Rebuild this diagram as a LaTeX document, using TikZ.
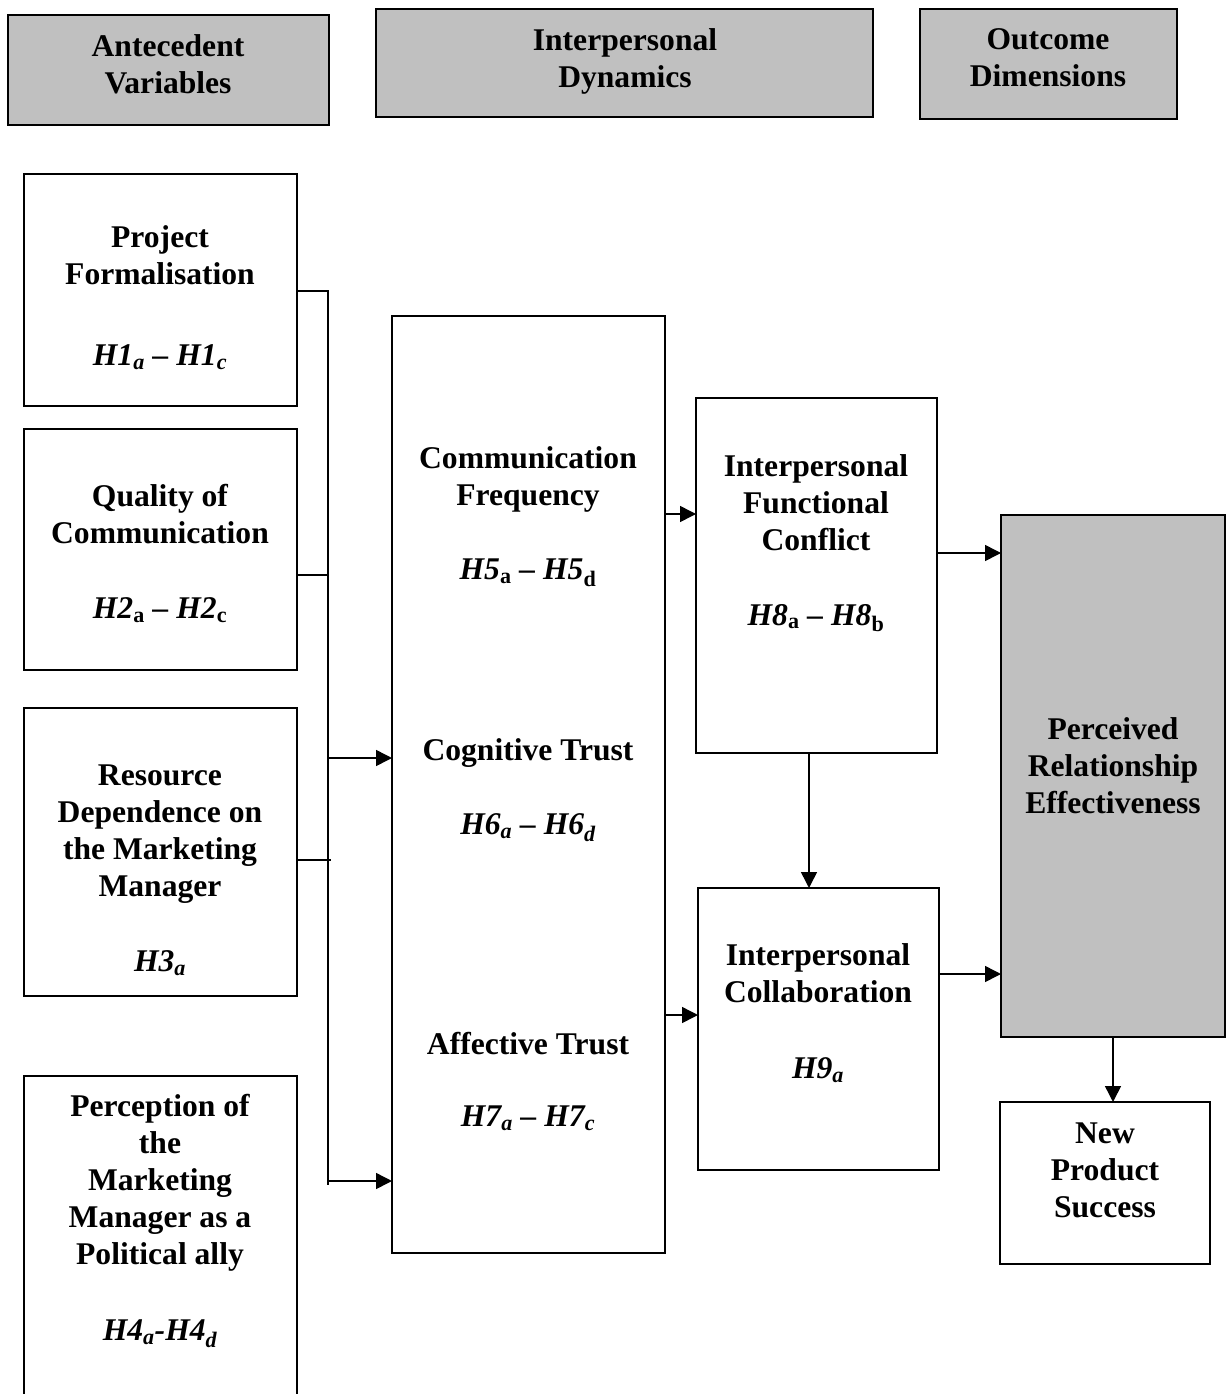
\documentclass[tikz,border=0pt]{standalone}
\usepackage{fontspec}
\setmainfont{Liberation Serif}
\usetikzlibrary{arrows.meta}

\definecolor{hdrgray}{HTML}{C0C0C0}

% subscripts for the hypothesis labels
\newcommand\hsubi[1]{\textsubscript{\textit{#1}}}
\newcommand\hsubu[1]{\textsubscript{\textup{#1}}}

\tikzset{
  box/.style={draw, line width=1.5pt, inner sep=0pt, outer sep=0pt, anchor=north west},
  hbox/.style={box, fill=hdrgray},
  lbl/.style={font=\bfseries\fontsize{31.6}{37}\selectfont, align=center, inner sep=0pt},
  hyp/.style={lbl, font=\bfseries\itshape\fontsize{31.6}{37}\selectfont},
  link/.style={line width=1.5pt},
  arr/.style={link, -{Triangle[length=16pt,width=16pt]}},
}

\begin{document}
\begin{tikzpicture}[x=1pt,y=-1pt]
\useasboundingbox (0,0) rectangle (1230,1394);
\clip (0,0) rectangle (1230,1394);

% column headers
\node[hbox, minimum width=321pt, minimum height=110pt] (h1) at (8,15) {};
\node[hbox, minimum width=497pt, minimum height=108pt] (h2) at (376,9) {};
\node[hbox, minimum width=257pt, minimum height=110pt] (h3) at (920,9) {};
\node[lbl] (h1t) at (168,64.5) {Antecedent\\Variables};
\node[lbl] (h2t) at (625,61) {Interpersonal\\Dynamics};
\node[lbl] (h3t) at (1048,57.5) {Outcome\\Dimensions};

% antecedent variables
\node[box, minimum width=273pt, minimum height=232pt] (pf) at (24,174) {};
\node[lbl] (pft) at (160,255) {Project\\Formalisation};
\node[hyp] (pfh) at (160,357) {H1\hsubi{a} – H1\hsubi{c}};

\node[box, minimum width=273pt, minimum height=241pt] (qc) at (24,429) {};
\node[lbl] (qct) at (160,514) {Quality of\\Communication};
\node[hyp] (qch) at (160,610) {H2\hsubu{a} – H2\hsubu{c}};

\node[box, minimum width=273pt, minimum height=288pt] (rd) at (24,708) {};
\node[lbl] (rdt) at (160,834) {Resource\\Dependence on\\the Marketing\\Manager};
\node[hyp] (rdh) at (160,963) {H3\hsubi{a}};

\node[box, minimum width=273pt, minimum height=340pt] (pm) at (24,1076) {};
\node[lbl] (pmt) at (160,1183) {Perception of\\the\\Marketing\\Manager as a\\Political ally};
\node[hyp] (pmh) at (160,1334) {H4\hsubi{a}-H4\hsubi{d}};

% interpersonal dynamics
\node[box, minimum width=273pt, minimum height=937pt] (mid) at (392,316) {};
\node[lbl] (cft) at (528,479) {Communication\\Frequency};
\node[hyp] (cfh) at (528,573) {H5\hsubu{a} – H5\hsubu{d}};
\node[lbl] (ctt) at (528,753) {Cognitive Trust};
\node[hyp] (cth) at (528,828) {H6\hsubi{a} – H6\hsubi{d}};
\node[lbl] (att) at (528,1044) {Affective Trust};
\node[hyp] (ath) at (528,1118) {H7\hsubi{a} – H7\hsubi{c}};

\node[box, minimum width=241pt, minimum height=355pt] (conf) at (696,398) {};
\node[lbl] (conft) at (816,502.5) {Interpersonal\\Functional\\Conflict};
\node[hyp] (confh) at (816,618) {H8\hsubu{a} – H8\hsubu{b}};

\node[box, minimum width=241pt, minimum height=282pt] (coll) at (698,888) {};
\node[lbl] (collt) at (818,973.5) {Interpersonal\\Collaboration};
\node[hyp] (collh) at (818,1070) {H9\hsubi{a}};

% outcome dimensions
\node[hbox, minimum width=224pt, minimum height=522pt] (pre) at (1001,515) {};
\node[lbl] (pret) at (1113,766) {Perceived\\Relationship\\Effectiveness};

\node[box, minimum width=210pt, minimum height=162pt] (nps) at (1000,1102) {};
\node[lbl] (npst) at (1105,1170) {New\\Product\\Success};

% collector line from the antecedents
\coordinate (bt) at (328,291);
\coordinate (bb) at (328,1185);
\coordinate (j2) at (328,575);
\coordinate (j3) at (331,860);
\coordinate (a1) at (328,758);
\coordinate (a2) at (328,1181);
\draw[link] (pf.east |- bt) -- (bt) -- (bb);
\draw[link] (qc.east |- j2) -- (j2);
\draw[link] (rd.east |- j3) -- (j3);
\draw[arr] (a1) -- (mid.west |- a1);
\draw[arr] (a2) -- (mid.west |- a2);

% links between the dynamics and outcomes
\coordinate (m1) at (665,514);
\coordinate (m2) at (665,1015);
\coordinate (c1) at (937,553);
\coordinate (c2) at (939,974);
\coordinate (v1) at (809,0);
\coordinate (v2) at (1113,0);
\draw[arr] (mid.east |- m1) -- (conf.west |- m1);
\draw[arr] (mid.east |- m2) -- (coll.west |- m2);
\draw[arr] (conf.east |- c1) -- (pre.west |- c1);
\draw[arr] (coll.east |- c2) -- (pre.west |- c2);
\draw[arr] (conf.south -| v1) -- (coll.north -| v1);
\draw[arr] (pre.south -| v2) -- (nps.north -| v2);
\end{tikzpicture}
\end{document}
